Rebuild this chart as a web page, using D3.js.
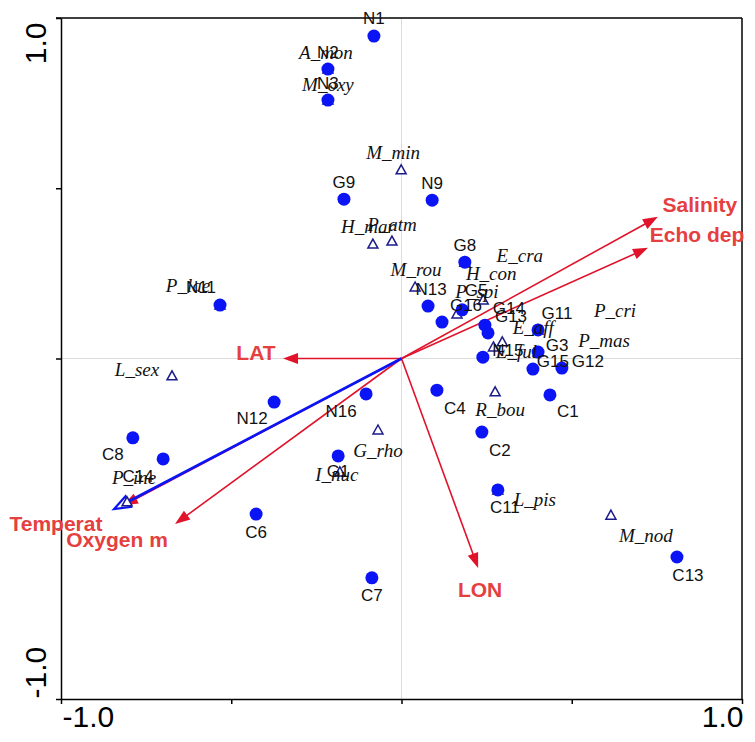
<!DOCTYPE html>
<html>
<head>
<meta charset="utf-8">
<script src="https://cdn.jsdelivr.net/npm/d3@7"></script>
<style>
  html, body { margin: 0; padding: 0; background: #fff; }
  svg { display: block; }
</style>
</head>
<body>
<svg id="chart" width="755" height="742"></svg>
<script>
// Ordination biplot: sample scores, species scores and environmental vectors

// Sample (site) scores
const siteNames = ["N1","N2","N3","G9","N9","G8","N13","G16","G5","G14","G13","G11","G3","N15","G15","G12",
                   "C1","C4","C2","C11","C13","C7","C6","C8","C14","N11","N12","N16","G1"];
const siteX = [-0.081,-0.216,-0.216,-0.169,0.090,0.186,0.078,0.119,0.178,0.245,0.254,0.401,0.401,0.239,0.386,0.471,
               0.436,0.104,0.236,0.283,0.809,-0.087,-0.427,-0.789,-0.700,-0.533,-0.374,-0.104,-0.186];
const siteY = [0.947,0.850,0.759,0.468,0.465,0.283,0.154,0.107,0.143,0.098,0.075,0.084,0.019,0.004,-0.031,-0.028,
               -0.107,-0.093,-0.216,-0.386,-0.583,-0.644,-0.457,-0.233,-0.295,0.157,-0.128,-0.104,-0.286];

// Species scores
const speciesNames = ["A_mon","M_oxy","M_min","H_mar","P_atm","P_lae","L_sex","M_rou","H_con","P_spi","E_cra",
                      "E_aff","E_ful","P_cri","P_mas","R_bou","G_rho","I_nuc","P_ine","L_pis","M_nod"];
const speciesX = [-0.216,-0.216,-0.001,-0.084,-0.028,-0.533,-0.674,0.040,0.240,0.163,0.186,
                  0.296,0.270,0.401,0.401,0.275,-0.069,-0.181,-0.806,0.283,0.615];
const speciesY = [0.850,0.759,0.554,0.336,0.345,0.157,-0.051,0.210,0.172,0.131,0.283,
                  0.049,0.034,0.084,0.019,-0.098,-0.210,-0.333,-0.421,-0.386,-0.460];

// Environmental variables (arrow tips)
const envNames = ["Salinity","Echo dep","LAT","LON","Oxygen m","Temperat"];
const envX = [0.753,0.724,-0.348,0.225,-0.665,-0.818];
const envY = [0.416,0.325,0.000,-0.615,-0.486,-0.432];

// Supplementary vector drawn in blue
const suppX = [-0.844];
const suppY = [-0.442];

// Axis tick values
const tickValues = [-1.0,-0.5,0,0.5,1.0];

// Label placement relative to each symbol (pixels)
const siteNudge = {
  N1:[0,-18],N2:[0,-17],N3:[0,-17],G9:[0,-17],N9:[0,-17],G8:[0,-17],N13:[3,-17],G16:[24,-17],G5:[14,-19],
  G14:[24,-17],G13:[23,-16],G11:[19,-16],G3:[19,-7],N15:[25,-7],G15:[20,-8],G12:[26,-7],
  C1:[18,17],C4:[18,18],C2:[18,18],C11:[7,18],C13:[11,18],C7:[0,18],C6:[0,18],C8:[-20,17],C14:[-25,18],
  N11:[-19,-18],N12:[-22,16],N16:[-25,18],G1:[0,16]
};
const speciesNudge = {
  A_mon:[-2,-17],M_oxy:[0,-16],M_min:[-8,-17],H_mar:[-5,-18],P_atm:[0,-17],P_lae:[-32,-20],L_sex:[-35,-6],
  M_rou:[1,-17],H_con:[8,-26],P_spi:[20,-22],E_cra:[55,-7],E_aff:[31,-14],E_ful:[23,5],P_cri:[77,-19],
  P_mas:[66,-12],R_bou:[5,18],G_rho:[0,20],I_nuc:[-3,3],P_ine:[7,-24],L_pis:[37,10],M_nod:[35,20]
};
const envNudge = {
  "Salinity":[42,-12],"Echo dep":[49,-13],"LAT":[-27,-6],"LON":[2,22],"Oxygen m":[-58,16],"Temperat":[-67,18]
};

const svg = d3.select("#chart");
const x = d3.scaleLinear().domain([-1,1]).range([61,742]);
const y = d3.scaleLinear().domain([-1,1]).range([699,18]);

const RED = "#e0132b", RED_TXT = "#e5403f", BLUE = "#0a14f5", NAVY = "#1b1b8a";

// zero reference lines
svg.append("line").attr("x1",x(0)).attr("x2",x(0)).attr("y1",y(1)).attr("y2",y(-1))
  .attr("stroke","#dcdcdc").attr("stroke-width",1);
svg.append("line").attr("x1",x(-1)).attr("x2",x(1)).attr("y1",y(0)).attr("y2",y(0))
  .attr("stroke","#dcdcdc").attr("stroke-width",1);

// frame: top and right edges
svg.append("line").attr("x1",x(-1)-5).attr("x2",x(1)).attr("y1",y(1)).attr("y2",y(1))
  .attr("stroke","#000").attr("stroke-width",1.5);
svg.append("line").attr("x1",x(1)).attr("x2",x(1)).attr("y1",y(1)).attr("y2",y(-1))
  .attr("stroke","#000").attr("stroke-width",1.5);

// axes
const fmt = d => Math.abs(d) === 1 ? d.toFixed(1) : "";
const gx = svg.append("g").attr("transform",`translate(0,${y(-1)})`)
  .call(d3.axisBottom(x).tickValues(tickValues).tickSize(5).tickSizeOuter(0).tickFormat(fmt));
gx.selectAll("path,line").attr("stroke","#000").attr("stroke-width",1.5);
gx.selectAll("text").attr("font-family","Arial, 'Liberation Sans', sans-serif").attr("font-size",30)
  .attr("fill","#000").attr("y",7).attr("dy","0.71em")
  .attr("text-anchor", d => d < 0 ? "start" : "end")
  .attr("x", d => d < 0 ? 1 : 1);

const gy = svg.append("g").attr("transform",`translate(${x(-1)},0)`)
  .call(d3.axisLeft(y).tickValues(tickValues).tickSize(5).tickSizeOuter(0).tickFormat(fmt));
gy.selectAll("path,line").attr("stroke","#000").attr("stroke-width",1.5);
gy.selectAll("text").attr("font-family","Arial, 'Liberation Sans', sans-serif").attr("font-size",30)
  .attr("fill","#000").attr("x",null).attr("dy",null)
  .attr("transform","translate(-15,0) rotate(-90)")
  .attr("text-anchor", d => d > 0 ? "end" : "start")
  .attr("y", 0)
  .attr("dx", d => d > 0 ? -4 : 1);

// arrow helper: shaft plus head polygon
function arrowHead(x0,y0,x1,y1,len,half){
  const a = Math.atan2(y1-y0, x1-x0);
  const bx = x1 - len*Math.cos(a), by = y1 - len*Math.sin(a);
  const px = -Math.sin(a)*half, py = Math.cos(a)*half;
  return [[x1,y1],[bx+px,by+py],[bx-px,by-py]];
}

const env = envNames.map((n,i)=>({name:n, x:envX[i], y:envY[i]}));
const gEnv = svg.append("g");
env.forEach(d=>{
  const x0=x(0), y0=y(0), x1=x(d.x), y1=y(d.y);
  const head = arrowHead(x0,y0,x1,y1,15,5.5);
  const a = Math.atan2(y1-y0,x1-x0);
  gEnv.append("line").attr("x1",x0).attr("y1",y0)
    .attr("x2",x1-10*Math.cos(a)).attr("y2",y1-10*Math.sin(a))
    .attr("stroke",RED).attr("stroke-width",1.6);
  gEnv.append("polygon").attr("points",head.map(p=>p.join(",")).join(" ")).attr("fill",RED);
});

// supplementary blue vector
suppX.forEach((sx,i)=>{
  const x0=x(0), y0=y(0), x1=x(sx), y1=y(suppY[i]);
  const head = arrowHead(x0,y0,x1,y1,16,6);
  const a = Math.atan2(y1-y0,x1-x0);
  svg.append("line").attr("x1",x0).attr("y1",y0)
    .attr("x2",x1-14*Math.cos(a)).attr("y2",y1-14*Math.sin(a))
    .attr("stroke",BLUE).attr("stroke-width",2.6);
  svg.append("polygon").attr("points",head.map(p=>p.join(",")).join(" "))
    .attr("fill","none").attr("stroke",BLUE).attr("stroke-width",2.2).attr("stroke-linejoin","miter");
});

// species triangles
const species = speciesNames.map((n,i)=>({name:n, x:speciesX[i], y:speciesY[i]}));
svg.append("g").selectAll("path").data(species).join("path")
  .attr("d", d=>{ const cx=x(d.x), cy=y(d.y); return `M${cx},${cy-5}L${cx+5},${cy+4}L${cx-5},${cy+4}Z`; })
  .attr("fill","#fff").attr("stroke",NAVY).attr("stroke-width",1.5);

// site dots
const sites = siteNames.map((n,i)=>({name:n, x:siteX[i], y:siteY[i]}));
svg.append("g").selectAll("circle").data(sites).join("circle")
  .attr("cx", d=>x(d.x)).attr("cy", d=>y(d.y)).attr("r",6.5).attr("fill",BLUE);

// species labels
svg.append("g").selectAll("text").data(species).join("text")
  .attr("x", d=>x(d.x)+speciesNudge[d.name][0]).attr("y", d=>y(d.y)+speciesNudge[d.name][1])
  .attr("text-anchor","middle").attr("dominant-baseline","central")
  .attr("font-family","'Liberation Serif', 'Times New Roman', serif").attr("font-style","italic")
  .attr("font-size",19).attr("fill","#111").text(d=>d.name);

// site labels
svg.append("g").selectAll("text").data(sites).join("text")
  .attr("x", d=>x(d.x)+siteNudge[d.name][0]).attr("y", d=>y(d.y)+siteNudge[d.name][1])
  .attr("text-anchor","middle").attr("dominant-baseline","central")
  .attr("font-family","Arial, 'Liberation Sans', sans-serif")
  .attr("font-size",17).attr("fill","#111").text(d=>d.name);

// environmental labels
svg.append("g").selectAll("text").data(env).join("text")
  .attr("x", d=>x(d.x)+envNudge[d.name][0]).attr("y", d=>y(d.y)+envNudge[d.name][1])
  .attr("text-anchor","middle").attr("dominant-baseline","central")
  .attr("font-family","Arial, 'Liberation Sans', sans-serif").attr("font-weight","bold")
  .attr("font-size",21).attr("fill",RED_TXT).text(d=>d.name);
</script>
</body>
</html>
